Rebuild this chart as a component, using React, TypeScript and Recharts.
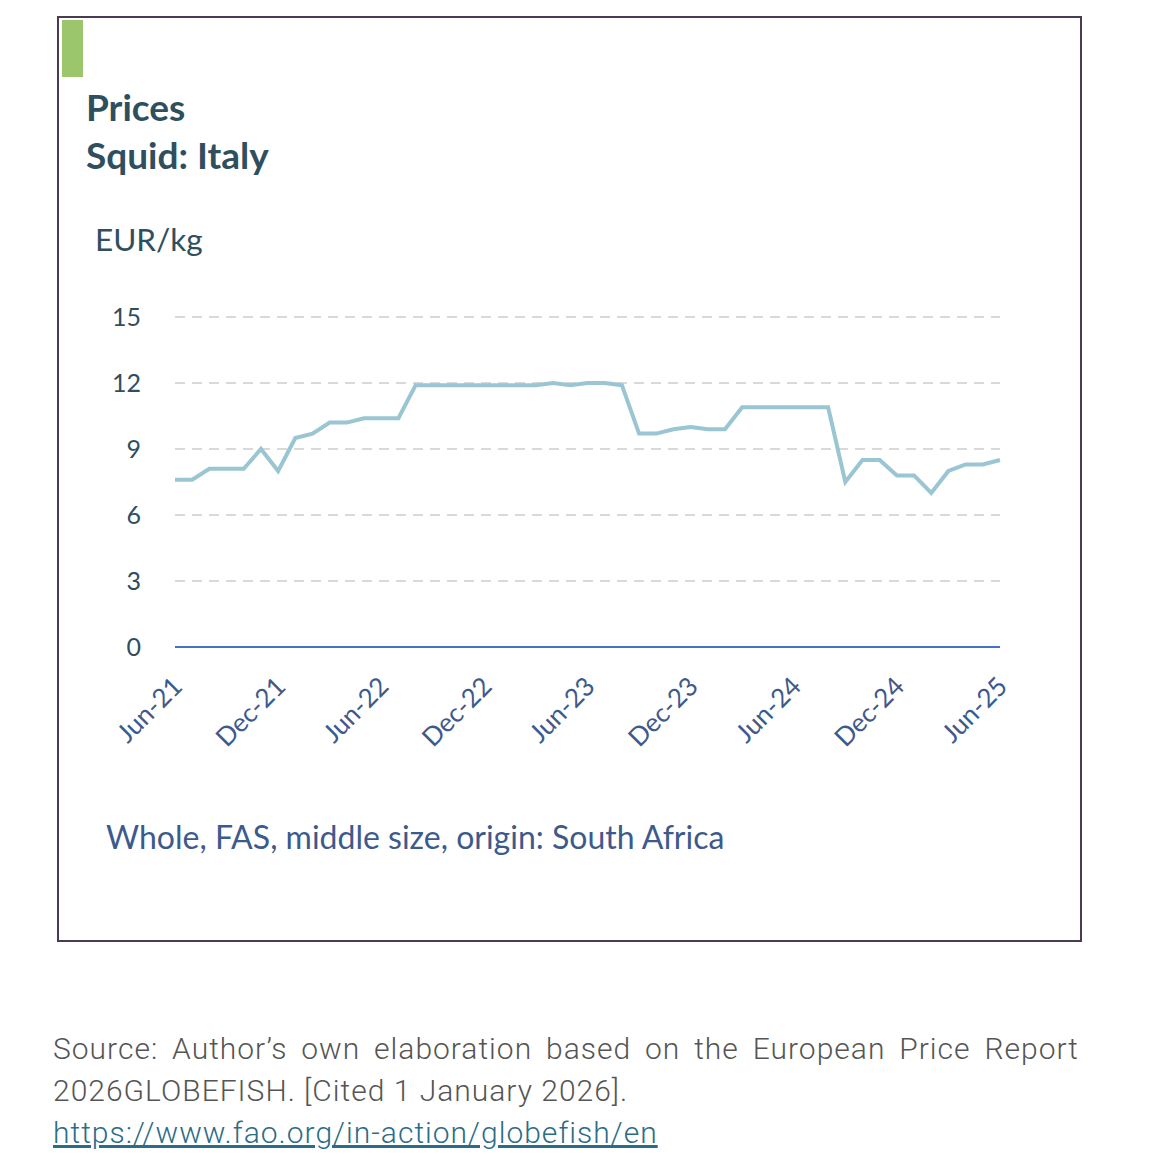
import { CartesianGrid, Line, LineChart, XAxis, YAxis } from 'recharts';

const months = [
  'Jun-21', 'Jul-21', 'Aug-21', 'Sep-21', 'Oct-21', 'Nov-21', 'Dec-21',
  'Jan-22', 'Feb-22', 'Mar-22', 'Apr-22', 'May-22', 'Jun-22',
  'Jul-22', 'Aug-22', 'Sep-22', 'Oct-22', 'Nov-22', 'Dec-22',
  'Jan-23', 'Feb-23', 'Mar-23', 'Apr-23', 'May-23', 'Jun-23',
  'Jul-23', 'Aug-23', 'Sep-23', 'Oct-23', 'Nov-23', 'Dec-23',
  'Jan-24', 'Feb-24', 'Mar-24', 'Apr-24', 'May-24', 'Jun-24',
  'Jul-24', 'Aug-24', 'Sep-24', 'Oct-24', 'Nov-24', 'Dec-24',
  'Jan-25', 'Feb-25', 'Mar-25', 'Apr-25', 'May-25', 'Jun-25',
];

const prices = [
  7.6, 7.6, 8.1, 8.1, 8.1, 9.0, 8.0,
  9.5, 9.7, 10.2, 10.2, 10.4, 10.4,
  10.4, 11.9, 11.9, 11.9, 11.9, 11.9,
  11.9, 11.9, 11.9, 12.0, 11.9, 12.0,
  12.0, 11.9, 9.7, 9.7, 9.9, 10.0,
  9.9, 9.9, 10.9, 10.9, 10.9, 10.9,
  10.9, 10.9, 7.5, 8.5, 8.5, 7.8,
  7.8, 7.0, 8.0, 8.3, 8.3, 8.5,
];

const yTicks = [0, 3, 6, 9, 12, 15];

const chartData = months.map((m, i) => ({ month: m, price: prices[i] }));

const titleColor = '#2f4f5e';
const axisBlue = '#3d5a8c';

const XTick = ({ x, y, payload }: any) => (
  <g transform={`translate(${x + 9},${y + 33})`}>
    <text
      transform="rotate(-45)"
      textAnchor="end"
      fill={axisBlue}
      fontSize={26}
      fontFamily="Lato"
    >
      {payload.value}
    </text>
  </g>
);

export default function App() {
  return (
    <div
      style={{
        position: 'absolute',
        left: 0,
        top: 0,
        width: 1157,
        height: 1157,
        background: '#fff',
        fontFamily: 'Lato',
      }}
    >
      <div
        style={{
          position: 'absolute',
          left: 57,
          top: 16,
          width: 1021,
          height: 922,
          border: '2px solid #4a3b55',
        }}
      />
      <div
        style={{
          position: 'absolute',
          left: 62,
          top: 20,
          width: 21,
          height: 57,
          background: '#9bc66b',
        }}
      />
      <div
        style={{
          position: 'absolute',
          left: 86,
          top: 83,
          color: titleColor,
          fontSize: 37,
          fontWeight: 700,
          lineHeight: '48px',
        }}
      >
        Prices
        <br />
        Squid: Italy
      </div>
      <div
        style={{
          position: 'absolute',
          left: 95,
          top: 219,
          color: titleColor,
          fontSize: 31.5,
          lineHeight: '40px',
        }}
      >
        EUR/kg
      </div>

      <div style={{ position: 'absolute', left: 0, top: 0 }}>
        <LineChart
          width={1157}
          height={780}
          data={chartData}
          margin={{ top: 317, right: 157, bottom: 0, left: 0 }}
        >
          <CartesianGrid
            vertical={false}
            stroke="#d9d9d9"
            strokeWidth={2}
            strokeDasharray="10 7"
          />
          <XAxis
            dataKey="month"
            interval={5}
            axisLine={{ stroke: '#4472c4', strokeWidth: 2 }}
            tickLine={false}
            tick={<XTick />}
            height={133}
          />
          <YAxis
            domain={[0, 15]}
            ticks={yTicks}
            width={175}
            axisLine={false}
            tickLine={false}
            tickSize={0}
            tickMargin={34}
            tick={{ fill: titleColor, fontSize: 25, fontFamily: 'Lato' }}
          />
          <Line
            dataKey="price"
            stroke="#9ac5d2"
            strokeWidth={4}
            dot={false}
            isAnimationActive={false}
          />
        </LineChart>
      </div>

      <div
        style={{
          position: 'absolute',
          left: 106,
          top: 817,
          color: axisBlue,
          fontSize: 32,
          lineHeight: '40px',
        }}
      >
        Whole, FAS, middle size, origin: South Africa
      </div>

      <div
        style={{
          position: 'absolute',
          left: 53,
          top: 1028,
          width: 1026,
          color: '#555',
          fontFamily: 'Roboto',
          fontWeight: 300,
          fontSize: 30,
          letterSpacing: 1,
          lineHeight: '42px',
          textAlign: 'justify',
        }}
      >
        Source: Author’s own elaboration based on the European Price Report
        2026GLOBEFISH. [Cited 1 January 2026].
        <br />
        <span style={{ color: '#2c6c86', textDecoration: 'underline' }}>
          https://www.fao.org/in-action/globefish/en
        </span>
      </div>
    </div>
  );
}
